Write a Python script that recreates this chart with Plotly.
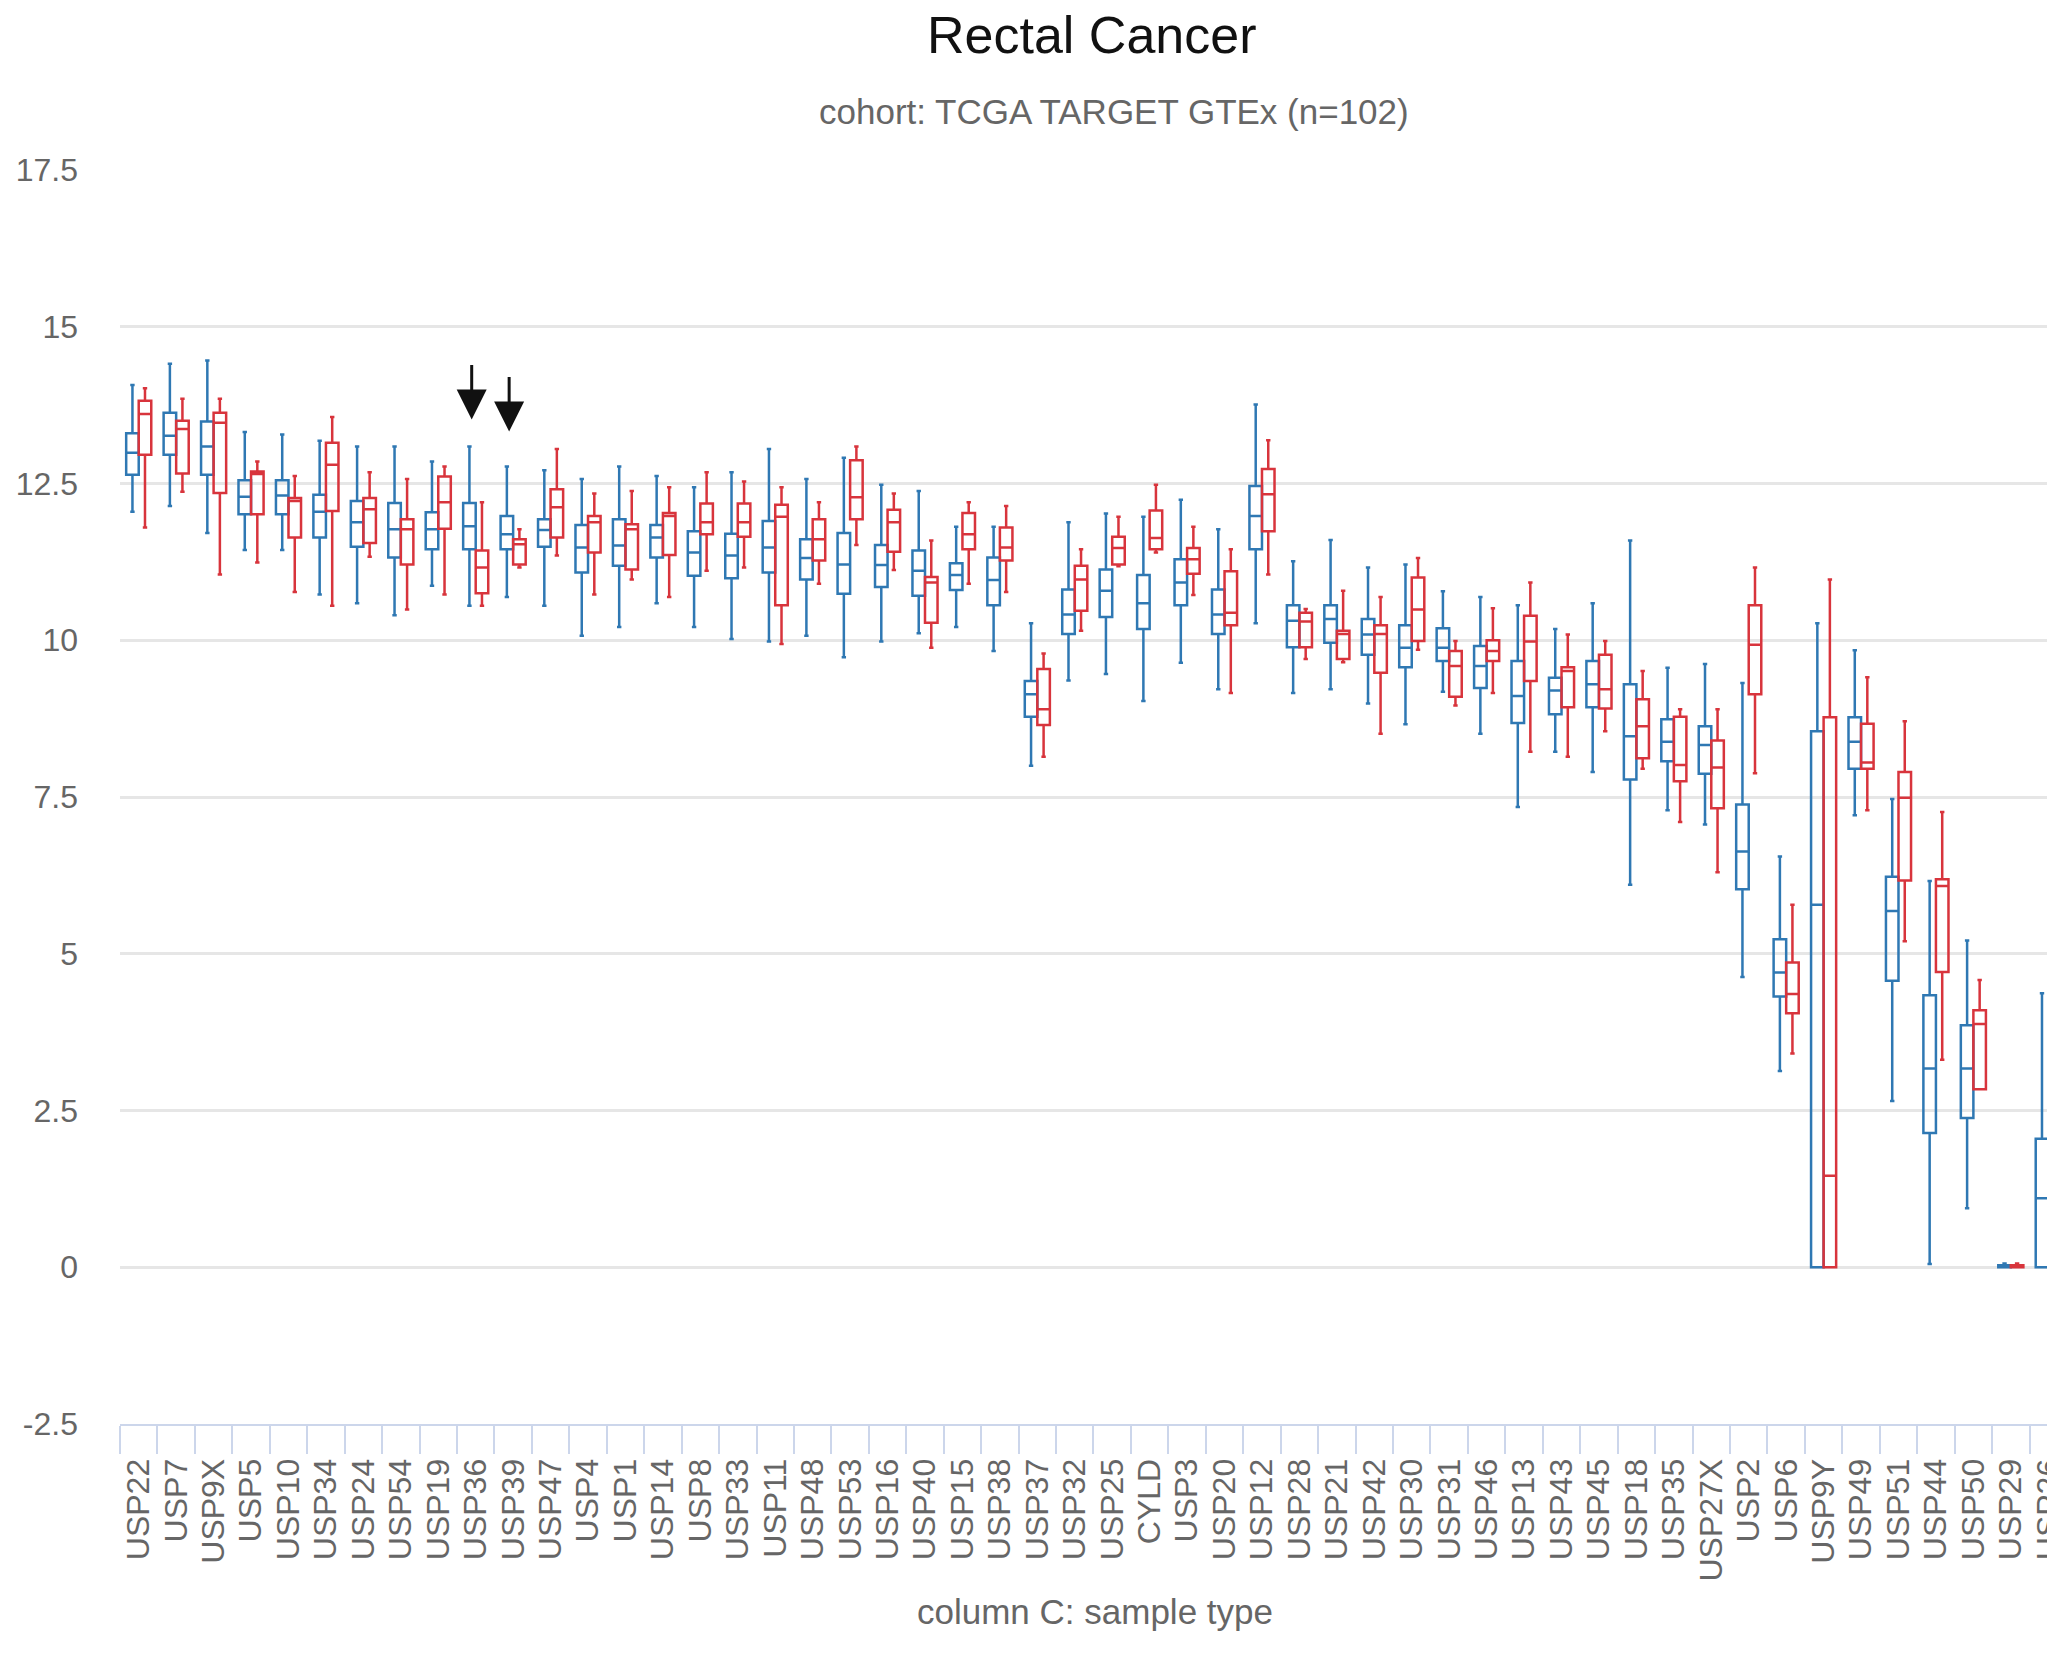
import plotly.graph_objects as go

categories = ["USP22", "USP7", "USP9X", "USP5", "USP10", "USP34", "USP24", "USP54", "USP19", "USP36",
              "USP39", "USP47", "USP4", "USP1", "USP14", "USP8", "USP33", "USP11", "USP48", "USP53",
              "USP16", "USP40", "USP15", "USP38", "USP37", "USP32", "USP25", "CYLD", "USP3", "USP20",
              "USP12", "USP28", "USP21", "USP42", "USP30", "USP31", "USP46", "USP13", "USP43", "USP45",
              "USP18", "USP35", "USP27X", "USP2", "USP6", "USP9Y", "USP49", "USP51", "USP44", "USP50",
              "USP29", "USP26"]

# Blue series (normal)
blue_lower = [12.05, 12.14, 11.71, 11.44, 11.44, 10.73, 10.59, 10.40, 10.87, 10.55,
              10.69, 10.55, 10.07, 10.21, 10.59, 10.21, 10.02, 9.98, 10.07, 9.73,
              9.98, 10.11, 10.21, 9.83, 8.00, 9.36, 9.46, 9.03, 9.64, 9.22,
              10.27, 9.16, 9.22, 8.99, 8.66, 9.18, 8.51, 7.34, 8.22, 7.90,
              6.10, 7.29, 7.06, 4.63, 3.13, 0.0, 7.21, 2.65, 0.05, 0.94,
              0.0, 0.0]
blue_q1 = [12.64, 12.96, 12.64, 12.01, 12.01, 11.64, 11.49, 11.32, 11.45, 11.45,
           11.45, 11.49, 11.08, 11.19, 11.32, 11.03, 10.99, 11.08, 10.97, 10.74,
           10.85, 10.71, 10.80, 10.56, 8.78, 10.10, 10.37, 10.18, 10.56, 10.10,
           11.45, 9.89, 9.96, 9.77, 9.57, 9.67, 9.24, 8.68, 8.82, 8.93,
           7.78, 8.07, 7.87, 6.03, 4.32, 0.0, 7.95, 4.57, 2.14, 2.38,
           0.0, 0.0]
blue_median = [12.99, 13.26, 13.09, 12.29, 12.31, 12.05, 11.88, 11.77, 11.77, 11.82,
               11.69, 11.76, 11.48, 11.51, 11.64, 11.40, 11.35, 11.48, 11.31, 11.21,
               11.20, 11.11, 11.04, 10.96, 9.14, 10.41, 10.79, 10.59, 10.92, 10.41,
               11.98, 10.31, 10.34, 10.09, 9.88, 9.88, 9.59, 9.11, 9.20, 9.30,
               8.47, 8.38, 8.33, 6.63, 4.70, 5.78, 8.38, 5.68, 3.17, 3.17,
               0.0, 1.10]
blue_q3 = [13.30, 13.63, 13.49, 12.55, 12.55, 12.32, 12.22, 12.19, 12.04, 12.19,
           11.98, 11.93, 11.84, 11.93, 11.84, 11.74, 11.70, 11.90, 11.61, 11.71,
           11.52, 11.43, 11.23, 11.32, 9.35, 10.81, 11.13, 11.04, 11.29, 10.81,
           12.46, 10.56, 10.56, 10.34, 10.24, 10.19, 9.91, 9.67, 9.40, 9.67,
           9.30, 8.74, 8.63, 7.38, 5.23, 8.55, 8.77, 6.23, 4.34, 3.86,
           0.03, 2.05]
blue_upper = [14.07, 14.41, 14.46, 13.32, 13.28, 13.18, 13.09, 13.09, 12.85, 13.09,
              12.77, 12.71, 12.57, 12.77, 12.62, 12.44, 12.68, 13.05, 12.57, 12.91,
              12.48, 12.38, 11.81, 11.81, 10.27, 11.88, 12.02, 11.97, 12.24, 11.77,
              13.76, 11.26, 11.60, 11.16, 11.21, 10.78, 10.69, 10.56, 10.18, 10.59,
              11.59, 9.56, 9.62, 9.32, 6.55, 10.27, 9.84, 7.47, 6.16, 5.21,
              0.06, 4.37]

# Red series (tumor)
red_lower = [11.80, 12.37, 11.05, 11.24, 10.77, 10.55, 11.33, 10.49, 10.73, 10.55,
             11.16, 11.35, 10.73, 10.97, 10.69, 11.11, 11.16, 9.94, 10.90, 11.52,
             11.12, 9.88, 10.90, 10.77, 8.14, 10.15, 11.18, 11.40, 10.72, 9.16,
             11.05, 9.70, 9.65, 8.51, 9.85, 8.96, 9.16, 8.22, 8.14, 8.55,
             7.95, 7.10, 6.30, 7.88, 3.41, 0.0, 7.29, 5.20, 3.31, 2.84,
             0.0, 0.0]
red_q1 = [12.96, 12.66, 12.35, 12.01, 11.64, 12.06, 11.55, 11.21, 11.78, 10.75,
          11.21, 11.64, 11.40, 11.13, 11.36, 11.69, 11.65, 10.56, 11.27, 11.93,
          11.41, 10.28, 11.45, 11.27, 8.65, 10.47, 11.21, 11.45, 11.06, 10.24,
          11.74, 9.89, 9.70, 9.48, 9.99, 9.10, 9.67, 9.35, 8.93, 8.91,
          8.12, 7.75, 7.32, 9.14, 4.05, 0.0, 7.95, 6.17, 4.71, 2.84,
          0.0, 0.0]
red_median = [13.61, 13.37, 13.47, 12.65, 12.22, 12.80, 12.09, 11.77, 12.20, 11.16,
              11.53, 12.12, 11.88, 11.77, 11.98, 11.88, 11.88, 11.97, 11.61, 12.28,
              11.88, 10.92, 11.69, 11.48, 8.90, 10.97, 11.47, 11.63, 11.29, 10.44,
              12.33, 10.30, 10.10, 10.10, 10.49, 9.59, 9.83, 9.98, 9.51, 9.22,
              8.63, 8.01, 7.97, 9.93, 4.36, 1.46, 8.05, 7.49, 6.08, 3.88,
              0.0, 0.0]
red_q3 = [13.82, 13.50, 13.63, 12.69, 12.27, 13.15, 12.27, 11.93, 12.61, 11.43,
          11.61, 12.41, 11.98, 11.85, 12.03, 12.18, 12.18, 12.16, 11.93, 12.87,
          12.08, 11.01, 12.03, 11.80, 9.54, 11.19, 11.65, 12.07, 11.47, 11.10,
          12.73, 10.44, 10.15, 10.24, 11.00, 9.83, 10.00, 10.39, 9.57, 9.77,
          9.06, 8.78, 8.40, 10.56, 4.86, 8.77, 8.67, 7.90, 6.19, 4.10,
          0.03, 0.02]
red_upper = [14.02, 13.85, 13.85, 12.85, 12.62, 13.56, 12.68, 12.57, 12.77, 12.20,
             11.77, 13.05, 12.34, 12.38, 12.44, 12.68, 12.53, 12.44, 12.20, 13.09,
             12.34, 11.59, 12.20, 12.14, 9.79, 11.45, 11.97, 12.48, 11.81, 11.45,
             13.19, 10.50, 10.79, 10.69, 11.31, 9.99, 10.51, 10.92, 10.09, 9.99,
             9.51, 8.90, 8.90, 11.16, 5.78, 10.97, 9.41, 8.71, 7.26, 4.58,
             0.06, 0.04]

y_tickvals = [-2.5, 0, 2.5, 5, 7.5, 10, 12.5, 15, 17.5]
y_ticktext = ["-2.5", "0", "2.5", "5", "7.5", "10", "12.5", "15", "17.5"]

BLUE = "#2f78b3"
RED = "#d8343c"
FONT = "Liberation Sans, Arial, Helvetica, sans-serif"

fig = go.Figure()
for name, col, lo, q1, md, q3, up in [
    ("normal", BLUE, blue_lower, blue_q1, blue_median, blue_q3, blue_upper),
    ("tumor", RED, red_lower, red_q1, red_median, red_q3, red_upper),
]:
    fig.add_trace(go.Box(
        x=categories, lowerfence=lo, q1=q1, median=md, q3=q3, upperfence=up,
        name=name, marker_color=col, line=dict(color=col, width=2.5),
        fillcolor="rgba(255,255,255,0)", whiskerwidth=0.35, boxpoints=False,
        hoverinfo="skip", showlegend=False,
    ))

# arrows
for cat, tip in [("USP36", 13.52), ("USP39", 13.33)]:
    fig.add_annotation(x=cat, y=tip, xref="x", yref="y", text="", showarrow=True,
                       ax=0, ay=-56, arrowhead=2, arrowsize=2.0, arrowwidth=3,
                       arrowcolor="#111111", xshift=-4, standoff=0)

fig.add_annotation(text="Rectal Cancer", xref="paper", yref="paper", x=0.5023, y=1.1075,
                   xanchor="center", yanchor="middle", showarrow=False,
                   font=dict(family=FONT, size=52, color="#111111"))
fig.add_annotation(text="cohort: TCGA TARGET GTEx (n=102)", xref="paper", yref="paper",
                   x=0.5138, y=1.0463, xanchor="center", yanchor="middle", showarrow=False,
                   font=dict(family=FONT, size=35, color="#666666"))
fig.add_annotation(text="column C: sample type", xref="paper", yref="paper",
                   x=0.5039, y=-0.1499, xanchor="center", yanchor="middle", showarrow=False,
                   font=dict(family=FONT, size=35, color="#666666"))

fig.update_layout(
    width=2047, height=1651,
    margin=dict(l=112, r=0, t=162, b=235, autoexpand=False),
    paper_bgcolor="white", plot_bgcolor="white",
    boxmode="group", boxgap=0.33, boxgroupgap=0.0,
    font=dict(family=FONT, color="#666666"),
    xaxis=dict(
        type="category", range=[-0.5, 51.18], automargin=False,
        tickmode="array", tickvals=categories, ticktext=categories,
        tickangle=-90, tickfont=dict(family=FONT, size=32, color="#666666"),
        ticks="outside", tickson="boundaries", ticklen=28, tickwidth=2, tickcolor="#ccd6eb",
        ticklabelstandoff=20,
        showline=True, linecolor="#ccd6eb", linewidth=2, showgrid=False, zeroline=False,
        fixedrange=True,
    ),
    yaxis=dict(
        range=[-2.5, 17.5], tickvals=y_tickvals, ticktext=y_ticktext, automargin=False,
        tickfont=dict(family=FONT, size=32, color="#666666"),
        showgrid=True, gridcolor="#e6e6e6", gridwidth=2.5, zeroline=False,
        showline=False, ticks="", ticklabelstandoff=41,
    ),
)

fig.write_html("out.html")
